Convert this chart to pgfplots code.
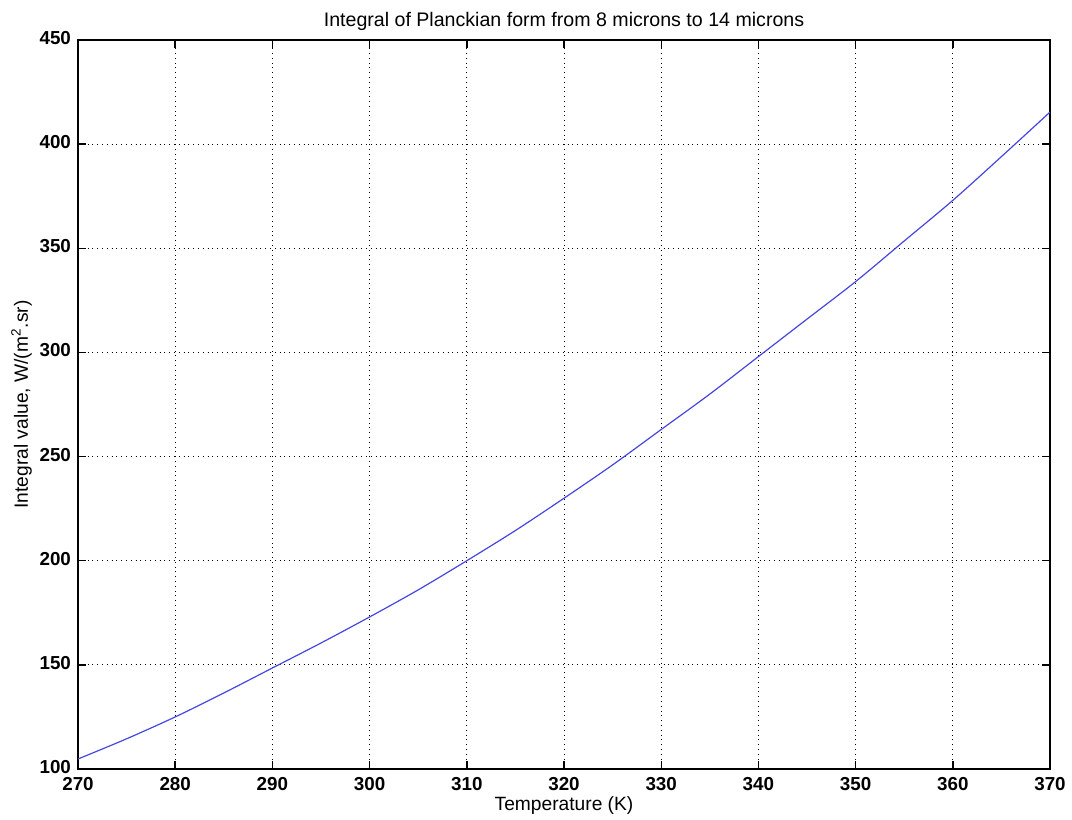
\documentclass[border=0pt]{standalone}
\usepackage{fontspec}
\setmainfont{Liberation Sans}
\usepackage{pgfplots}
\pgfplotsset{compat=1.18}
\definecolor{curve}{RGB}{70,70,225}
\begin{document}
\begin{tikzpicture}
\useasboundingbox (-39pt,-25.5pt) rectangle (497pt,384.5pt);
\begin{axis}[
  at={(0,0)}, anchor=south west,
  scale only axis, width=486pt, height=364.5pt,
  xmin=270, xmax=370, ymin=100, ymax=450,
  xtick={270,280,...,370}, ytick={100,150,...,450},
  grid=major,
  major grid style={black, dotted, line width=0.5pt},
  axis line style={black, line width=0.9pt},
  tick style={black, line width=0.7pt},
  tick align=inside,
  major tick length=4pt,
  xtick pos=both, ytick pos=both,
  /pgf/number format/assume math mode=true,
  /pgf/number format/1000 sep={},
  tick label style={font=\fontsize{9.4}{10}\selectfont\bfseries},
  xticklabel style={yshift=-0.5pt},
  yticklabel style={yshift=1pt},
  title={Integral of Planckian form from 8 microns to 14 microns},
  title style={font=\fontsize{9.8}{11}\selectfont, yshift=-5pt},
  xlabel={Temperature (K)},
  ylabel={Integral value, W/(m\textsuperscript{2}.sr)},
  label style={font=\fontsize{9.6}{11}\selectfont},
  xlabel style={yshift=4pt},
  ylabel style={yshift=-3pt},
]
\addplot[curve, line width=0.6pt, smooth] coordinates {
(270,104.8) (275,114.5) (280,125) (285,136.5) (290,148.5) (295,160.5)
(300,173) (305,186) (310,200) (315,214.5) (320,230) (325,246)
(330,263) (335,280) (340,298) (345,316) (350,334) (355,353.5)
(360,373) (365,394) (370,415.4)
};
\end{axis}
\end{tikzpicture}
\end{document}
